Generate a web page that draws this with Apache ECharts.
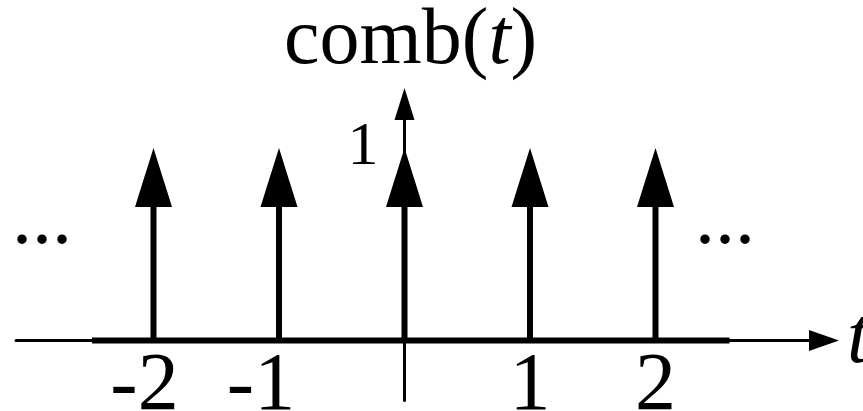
<!DOCTYPE html>
<html>
<head>
<meta charset="utf-8">
<script src="https://cdn.jsdelivr.net/npm/echarts@6/dist/echarts.min.js"></script>
<style>
  html, body { margin: 0; padding: 0; background: #fff; }
  #chart { width: 863px; height: 411px; }
</style>
</head>
<body>
<div id="chart"></div>
<script>
// Dirac comb: unit impulses at every integer t
const impulseTimes = [-2, -1, 0, 1, 2];
const impulseHeights = [1, 1, 1, 1, 1];
const xTickValues = [-2, -1, 1, 2];
const xTickLabels = ['-2', '-1', '1', '2'];
const yTickValues = [1];
const yTickLabels = ['1'];
// heavier stretch of the t axis beneath the impulses
const baseSpan = [[-2.49, 0], [2.59, 0]];

const SERIF = "'Liberation Serif','Times New Roman',serif";
const INK = '#000';

const X_MIN = -3.0956, X_MAX = 3.3426;
const Y_MIN = -0.3117, Y_MAX = 1.2286;
const GRID = { left: 16, right: 39, top: 104, bottom: 10.5 };
const W = 863, H = 411;

// pixel distance from the grid edges to the zero lines, so both axes cross at the origin
const gridW = W - GRID.left - GRID.right;
const gridH = H - GRID.top - GRID.bottom;
const xAxisLift = gridH * (0 - Y_MIN) / (Y_MAX - Y_MIN);
const yAxisShift = gridW * (0 - X_MIN) / (X_MAX - X_MIN);

const impulseData = impulseTimes.map((t, i) => [t, impulseHeights[i]]);

// negative labels sit a little to the left of their impulse
const labelShift = { '-2': 18, '-1': 36 };

const chart = echarts.init(document.getElementById('chart'), null, { renderer: 'canvas' });

chart.setOption({
  animation: false,
  backgroundColor: '#fff',
  title: {
    text: '{a|comb(}{b|t}{a|)}',
    left: 284,
    top: 2,
    padding: 0,
    textStyle: {
      rich: {
        a: { fontFamily: SERIF, fontSize: 80, fontWeight: 'normal', color: INK },
        b: { fontFamily: SERIF, fontSize: 80, fontWeight: 'normal', fontStyle: 'italic', color: INK }
      }
    }
  },
  grid: Object.assign({ containLabel: false, outerBoundsMode: 'none' }, GRID),
  xAxis: {
    type: 'value',
    min: X_MIN, max: X_MAX,
    position: 'bottom',
    offset: -xAxisLift,
    name: 't',
    nameLocation: 'end',
    nameGap: 23,
    nameTextStyle: {
      fontFamily: SERIF, fontSize: 80, fontStyle: 'italic', color: INK,
      verticalAlign: 'middle', padding: [0, 0, 16, 0]
    },
    axisLine: {
      onZero: false,
      symbol: ['none', 'triangle'],
      symbolSize: [21, 30],
      lineStyle: { color: INK, width: 3 }
    },
    axisTick: { show: false },
    splitLine: { show: false },
    axisLabel: {
      customValues: xTickValues,
      margin: 6,
      color: INK,
      fontFamily: SERIF,
      fontSize: 82,
      formatter: function (v) {
        const i = xTickValues.indexOf(v);
        const s = i >= 0 ? xTickLabels[i] : '';
        const pad = labelShift[s] || 0;
        return '{l' + pad + '|' + s + '}';
      },
      rich: {
        l0: { fontFamily: SERIF, fontSize: 82, color: INK },
        l18: { fontFamily: SERIF, fontSize: 82, color: INK, padding: [0, 18, 0, 0] },
        l36: { fontFamily: SERIF, fontSize: 82, color: INK, padding: [0, 36, 0, 0] }
      }
    }
  },
  yAxis: {
    type: 'value',
    min: Y_MIN, max: Y_MAX,
    position: 'left',
    offset: -yAxisShift,
    axisLine: {
      onZero: false,
      symbol: ['none', 'triangle'],
      symbolSize: [20, 32],
      lineStyle: { color: INK, width: 3 }
    },
    axisTick: { show: false },
    splitLine: { show: false },
    axisLabel: {
      customValues: yTickValues,
      margin: 26,
      color: INK,
      fontFamily: SERIF,
      fontSize: 62,
      formatter: function (v) {
        const i = yTickValues.indexOf(v);
        return i >= 0 ? yTickLabels[i] : '';
      }
    }
  },
  graphic: [
    { type: 'text', left: 12, top: 182, style: { text: '...', font: '80px ' + SERIF, fill: INK } },
    { type: 'text', left: 695, top: 182, style: { text: '...', font: '80px ' + SERIF, fill: INK } }
  ],
  series: [
    {
      type: 'line',
      data: baseSpan,
      symbol: 'none',
      lineStyle: { color: INK, width: 6 },
      silent: true,
      z: 1
    },
    {
      type: 'custom',
      data: impulseData,
      clip: false,
      z: 3,
      renderItem: function (params, api) {
        const t = api.value(0);
        const h = api.value(1);
        const base = api.coord([t, 0]);
        const tip = api.coord([t, h]);
        const headLen = 59;
        const headW = 37;
        return {
          type: 'group',
          children: [
            {
              type: 'line',
              shape: { x1: base[0], y1: base[1], x2: tip[0], y2: tip[1] + headLen },
              style: { stroke: INK, lineWidth: 6 }
            },
            {
              type: 'polygon',
              shape: {
                points: [
                  [tip[0], tip[1]],
                  [tip[0] - headW / 2, tip[1] + headLen],
                  [tip[0] + headW / 2, tip[1] + headLen]
                ]
              },
              style: { fill: INK }
            }
          ]
        };
      }
    }
  ]
});
</script>
</body>
</html>
